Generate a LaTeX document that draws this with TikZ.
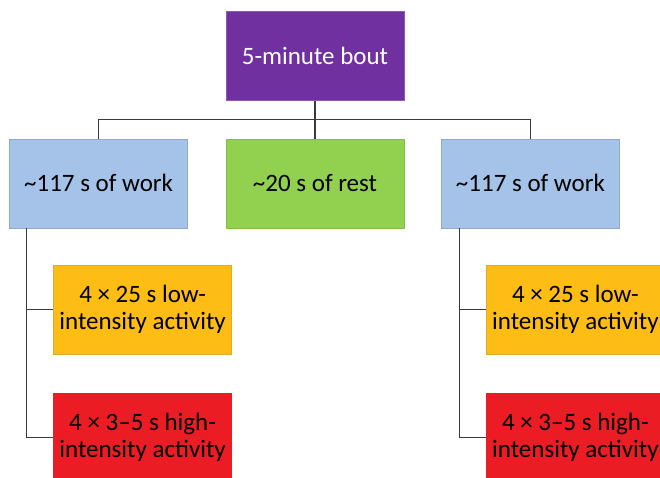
\documentclass[tikz,border=0pt]{standalone}
\usepackage{fontspec}
\setmainfont{Carlito}
\usetikzlibrary{positioning,calc}
\definecolor{boutpurple}{HTML}{7030A0}
\definecolor{workblue}{HTML}{A5C3E8}
\definecolor{workblueline}{HTML}{8EABD0}
\definecolor{restgreen}{HTML}{92D050}
\definecolor{restgreenline}{HTML}{84BC48}
\definecolor{loworange}{HTML}{FDBD14}
\definecolor{loworangeline}{HTML}{E2AA2A}
\definecolor{highred}{HTML}{EC1C24}
\definecolor{linkgray}{HTML}{3A3A3A}
\begin{document}
\begin{tikzpicture}[x=1pt,y=1pt,
  box/.style={draw,rectangle,minimum width=178pt,minimum height=89pt,
    inner sep=0pt,align=center,font=\fontsize{25}{27}\selectfont},
  link/.style={draw=linkgray,line width=1.1pt}]
      \useasboundingbox (0,0) rectangle (660,-477);
      \clip (0,0) rectangle (660,-477);
      \node [box,fill=boutpurple,draw=boutpurple!80!white,text=white]
      (bout) at (315,-56) {5-minute bout};
      \node [box,fill=restgreen,draw=restgreenline,below=38pt of bout]
      (rest) {\textasciitilde20 s of rest};
      \node [box,fill=workblue,draw=workblueline,left=38pt of rest]
      (work1) {\textasciitilde117 s of work};
      \node [box,fill=workblue,draw=workblueline,right=37pt of rest]
      (work2) {\textasciitilde117 s of work};
      \node [box,fill=loworange,draw=loworangeline,below=37pt of work1,
      xshift=44pt] (low1) {4 × 25 s low-\\intensity activity};
      \node [box,fill=highred,draw=highred,below=38pt of low1] (high1)
      {4 × 3–5 s high-\\intensity activity};
      \node [box,fill=loworange,draw=loworangeline,below=37pt of work2,
      xshift=45pt] (low2) {4 × 25 s low-\\intensity activity};
      \node [box,fill=highred,draw=highred,below=38pt of low2] (high2)
      {4 × 3–5 s high-\\intensity activity};
      \coordinate (bus) at ($(bout.south)!0.5!(rest.north)$);
      \coordinate (trunk1) at ([xshift=17pt]work1.south west);
      \coordinate (trunk2) at ([xshift=18pt]work2.south west);
      \draw[link] (bout) -- (rest);
      \draw[link] (work1.north) |- (bus) -| (work2.north);
      \draw[link] (trunk1) |- (high1.west);
      \draw[link] (trunk1 |- low1.west) -- (low1.west);
      \draw[link] (trunk2) |- (high2.west);
      \draw[link] (trunk2 |- low2.west) -- (low2.west);
\end{tikzpicture}
\end{document}
